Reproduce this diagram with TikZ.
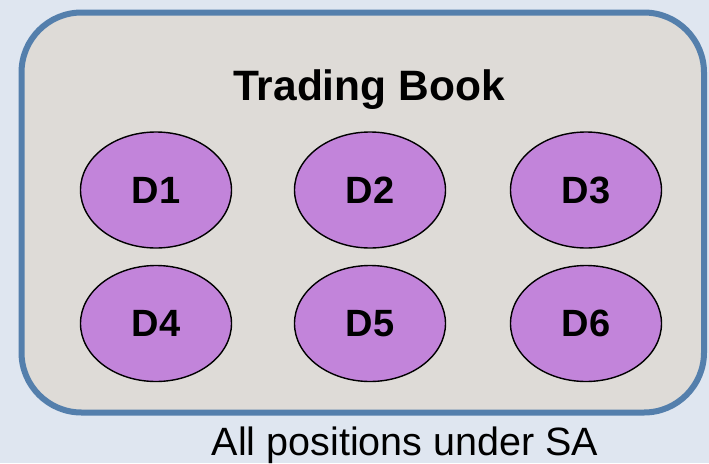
\documentclass[tikz,border=0pt]{standalone}
\usepackage{fontspec}
\setmainfont{Liberation Sans}
\usetikzlibrary{shapes.geometric}
\definecolor{pagebg}{RGB}{223,230,240}
\definecolor{bookfill}{RGB}{222,219,215}
\definecolor{bookedge}{RGB}{84,127,172}
\definecolor{deskfill}{RGB}{194,132,218}
\tikzset{
  desk/.style={ellipse, draw=black, line width=1.4pt, fill=deskfill,
    minimum width=151pt, minimum height=116pt, inner sep=0pt,
    font=\fontsize{38}{44}\selectfont\bfseries},
  booktitle/.style={anchor=base, inner sep=0pt, font=\fontsize{42.5}{50}\selectfont\bfseries},
  caption/.style={anchor=base, inner sep=0pt, font=\fontsize{39.5}{46}\selectfont}
}
\begin{document}
\begin{tikzpicture}[x=1pt, y=-1pt]
  % page background and fixed bounds
  \fill[pagebg] (0,0) rectangle (709,463);
  \useasboundingbox (0,0) rectangle (709,463);
  % trading book container
  \draw[bookedge, fill=bookfill, line width=6pt, rounded corners=60pt]
    (21.5,12.5) rectangle (704,412.5);
  \node[booktitle] (title) at (369,100) {Trading Book};
  % desks
  \node[desk] (d1) at (156,190) {D1};
  \node[desk] (d2) at (370,190) {D2};
  \node[desk] (d3) at (586,190) {D3};
  \node[desk] (d4) at (156,323.5) {D4};
  \node[desk] (d5) at (370,323.5) {D5};
  \node[desk] (d6) at (586,323.5) {D6};
  % caption below the container
  \node[caption] (cap) at (405,455) {All positions under SA};
\end{tikzpicture}
\end{document}
